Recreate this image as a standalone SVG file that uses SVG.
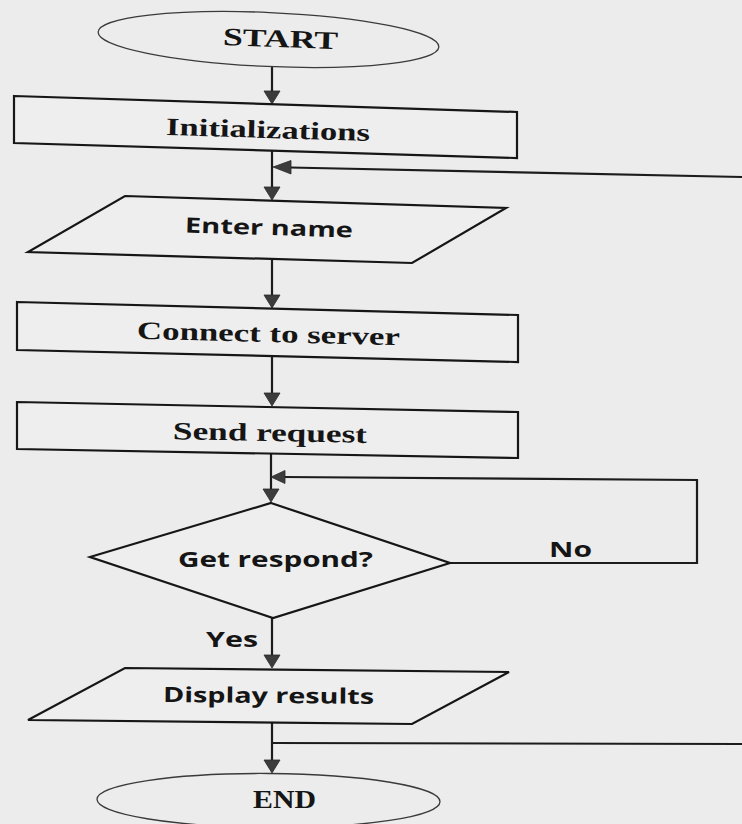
<svg xmlns="http://www.w3.org/2000/svg" width="742" height="824" viewBox="0 0 742 824">
  <style>
    .bg { fill: #ececec; }
    .shape { fill: #eeeeee; stroke: #161616; stroke-width: 2.2; stroke-linejoin: miter; }
    .term { fill: #ececec; stroke: #3a3a3a; stroke-width: 1.3; }
    .line { fill: none; stroke: #1c1c1c; stroke-width: 2.2; }
    .head { fill: #3c3c3c; stroke: #2a2a2a; stroke-width: 0.8; stroke-linejoin: miter; }
    .serif { font-family: "Liberation Serif", "Times New Roman", serif; font-weight: bold; font-size: 25px; fill: #151515; }
    .sans { font-family: "Open Sans", "Noto Sans", "Liberation Sans", sans-serif; font-weight: bold; font-size: 21px; fill: #151515; }
  </style>

  <rect class="bg" x="0" y="0" width="742" height="824"/>

  <!-- connectors -->
  <g id="connectors">
    <!-- START -> Initializations -->
    <line class="line" x1="272" y1="67" x2="272" y2="92"/>
    <polygon class="head" points="264,91 280,91 272,104"/>
    <!-- Initializations -> Enter name -->
    <line class="line" x1="272" y1="150" x2="272" y2="188"/>
    <polygon class="head" points="264,187 280,187 272,200"/>
    <!-- loop back from Display results (enters from the right) -->
    <line class="line" x1="290" y1="167.5" x2="742" y2="177"/>
    <polygon class="head" points="291,160.5 291,174 273,167"/>
    <!-- Enter name -> Connect to server -->
    <line class="line" x1="272" y1="259" x2="272" y2="296"/>
    <polygon class="head" points="264,295 280,295 272,308"/>
    <!-- Connect to server -> Send request -->
    <line class="line" x1="272" y1="356" x2="272" y2="394"/>
    <polygon class="head" points="264,393 280,393 272,406"/>
    <!-- Send request -> Get respond? -->
    <line class="line" x1="271" y1="453" x2="271" y2="490"/>
    <polygon class="head" points="263,489 279,489 271,502"/>
    <!-- No branch loops back above the decision -->
    <polyline class="line" points="450,563 697,563 697,480 283,477"/>
    <polygon class="head" points="285,470.5 285,483.5 271,477"/>
    <!-- Yes branch -> Display results -->
    <line class="line" x1="272" y1="618" x2="272" y2="656"/>
    <polygon class="head" points="264,655 280,655 272,668"/>
    <!-- Display results -> END -->
    <line class="line" x1="272" y1="722" x2="272" y2="761"/>
    <polygon class="head" points="264,760 280,760 272,773"/>
    <!-- line back to the top loop -->
    <line class="line" x1="272" y1="743" x2="742" y2="744"/>
  </g>

  <g id="start">
    <ellipse class="term" cx="268.5" cy="39.5" rx="170.5" ry="27" transform="rotate(2.5 268.5 39.5)"/>
    <text class="serif" x="280.5" y="47" text-anchor="middle" textLength="115" lengthAdjust="spacingAndGlyphs" transform="rotate(2 280.5 40)">START</text>
  </g>

  <g id="initializations">
    <polygon class="shape" points="14,96 517,112 517,158 14,143"/>
    <text class="serif" x="268" y="138" text-anchor="middle" textLength="204" lengthAdjust="spacingAndGlyphs" transform="rotate(1.7 268 130)">Initializations</text>
  </g>

  <g id="enter-name">
    <polygon class="shape" points="125,196 506,208 412,263 28,252"/>
    <text class="sans" x="269" y="235" text-anchor="middle" textLength="168" lengthAdjust="spacingAndGlyphs" transform="rotate(1.7 269 228)">Enter name</text>
  </g>

  <g id="connect-to-server">
    <polygon class="shape" points="17,302 518,315 518,362 17,350"/>
    <text class="serif" x="268.5" y="342" text-anchor="middle" textLength="263" lengthAdjust="spacingAndGlyphs" transform="rotate(1.4 268.5 334)">Connect to server</text>
  </g>

  <g id="send-request">
    <polygon class="shape" points="17,402 518,412 518,458 17,449"/>
    <text class="serif" x="270" y="441" text-anchor="middle" textLength="194" lengthAdjust="spacingAndGlyphs" transform="rotate(1.1 270 433)">Send request</text>
  </g>

  <g id="get-respond">
    <polygon class="shape" points="271,503 450,563 273,618 90,557"/>
    <text class="sans" x="275.5" y="567" text-anchor="middle" textLength="195" lengthAdjust="spacingAndGlyphs">Get respond?</text>
    <text class="sans" x="570.5" y="557" text-anchor="middle" textLength="43" lengthAdjust="spacingAndGlyphs">No</text>
    <text class="sans" x="232" y="647" text-anchor="middle" textLength="52" lengthAdjust="spacingAndGlyphs">Yes</text>
  </g>

  <g id="display-results">
    <polygon class="shape" points="125,668 509,672 412,724 28,720"/>
    <text class="sans" x="268.5" y="703" text-anchor="middle" textLength="211" lengthAdjust="spacingAndGlyphs" transform="rotate(0.5 268.5 696)">Display results</text>
  </g>

  <g id="end">
    <ellipse class="term" cx="268.5" cy="800.5" rx="171.5" ry="27" transform="rotate(0.4 268.5 800.5)"/>
    <text class="serif" x="284.5" y="808" text-anchor="middle" textLength="63" lengthAdjust="spacingAndGlyphs">END</text>
  </g>
</svg>
